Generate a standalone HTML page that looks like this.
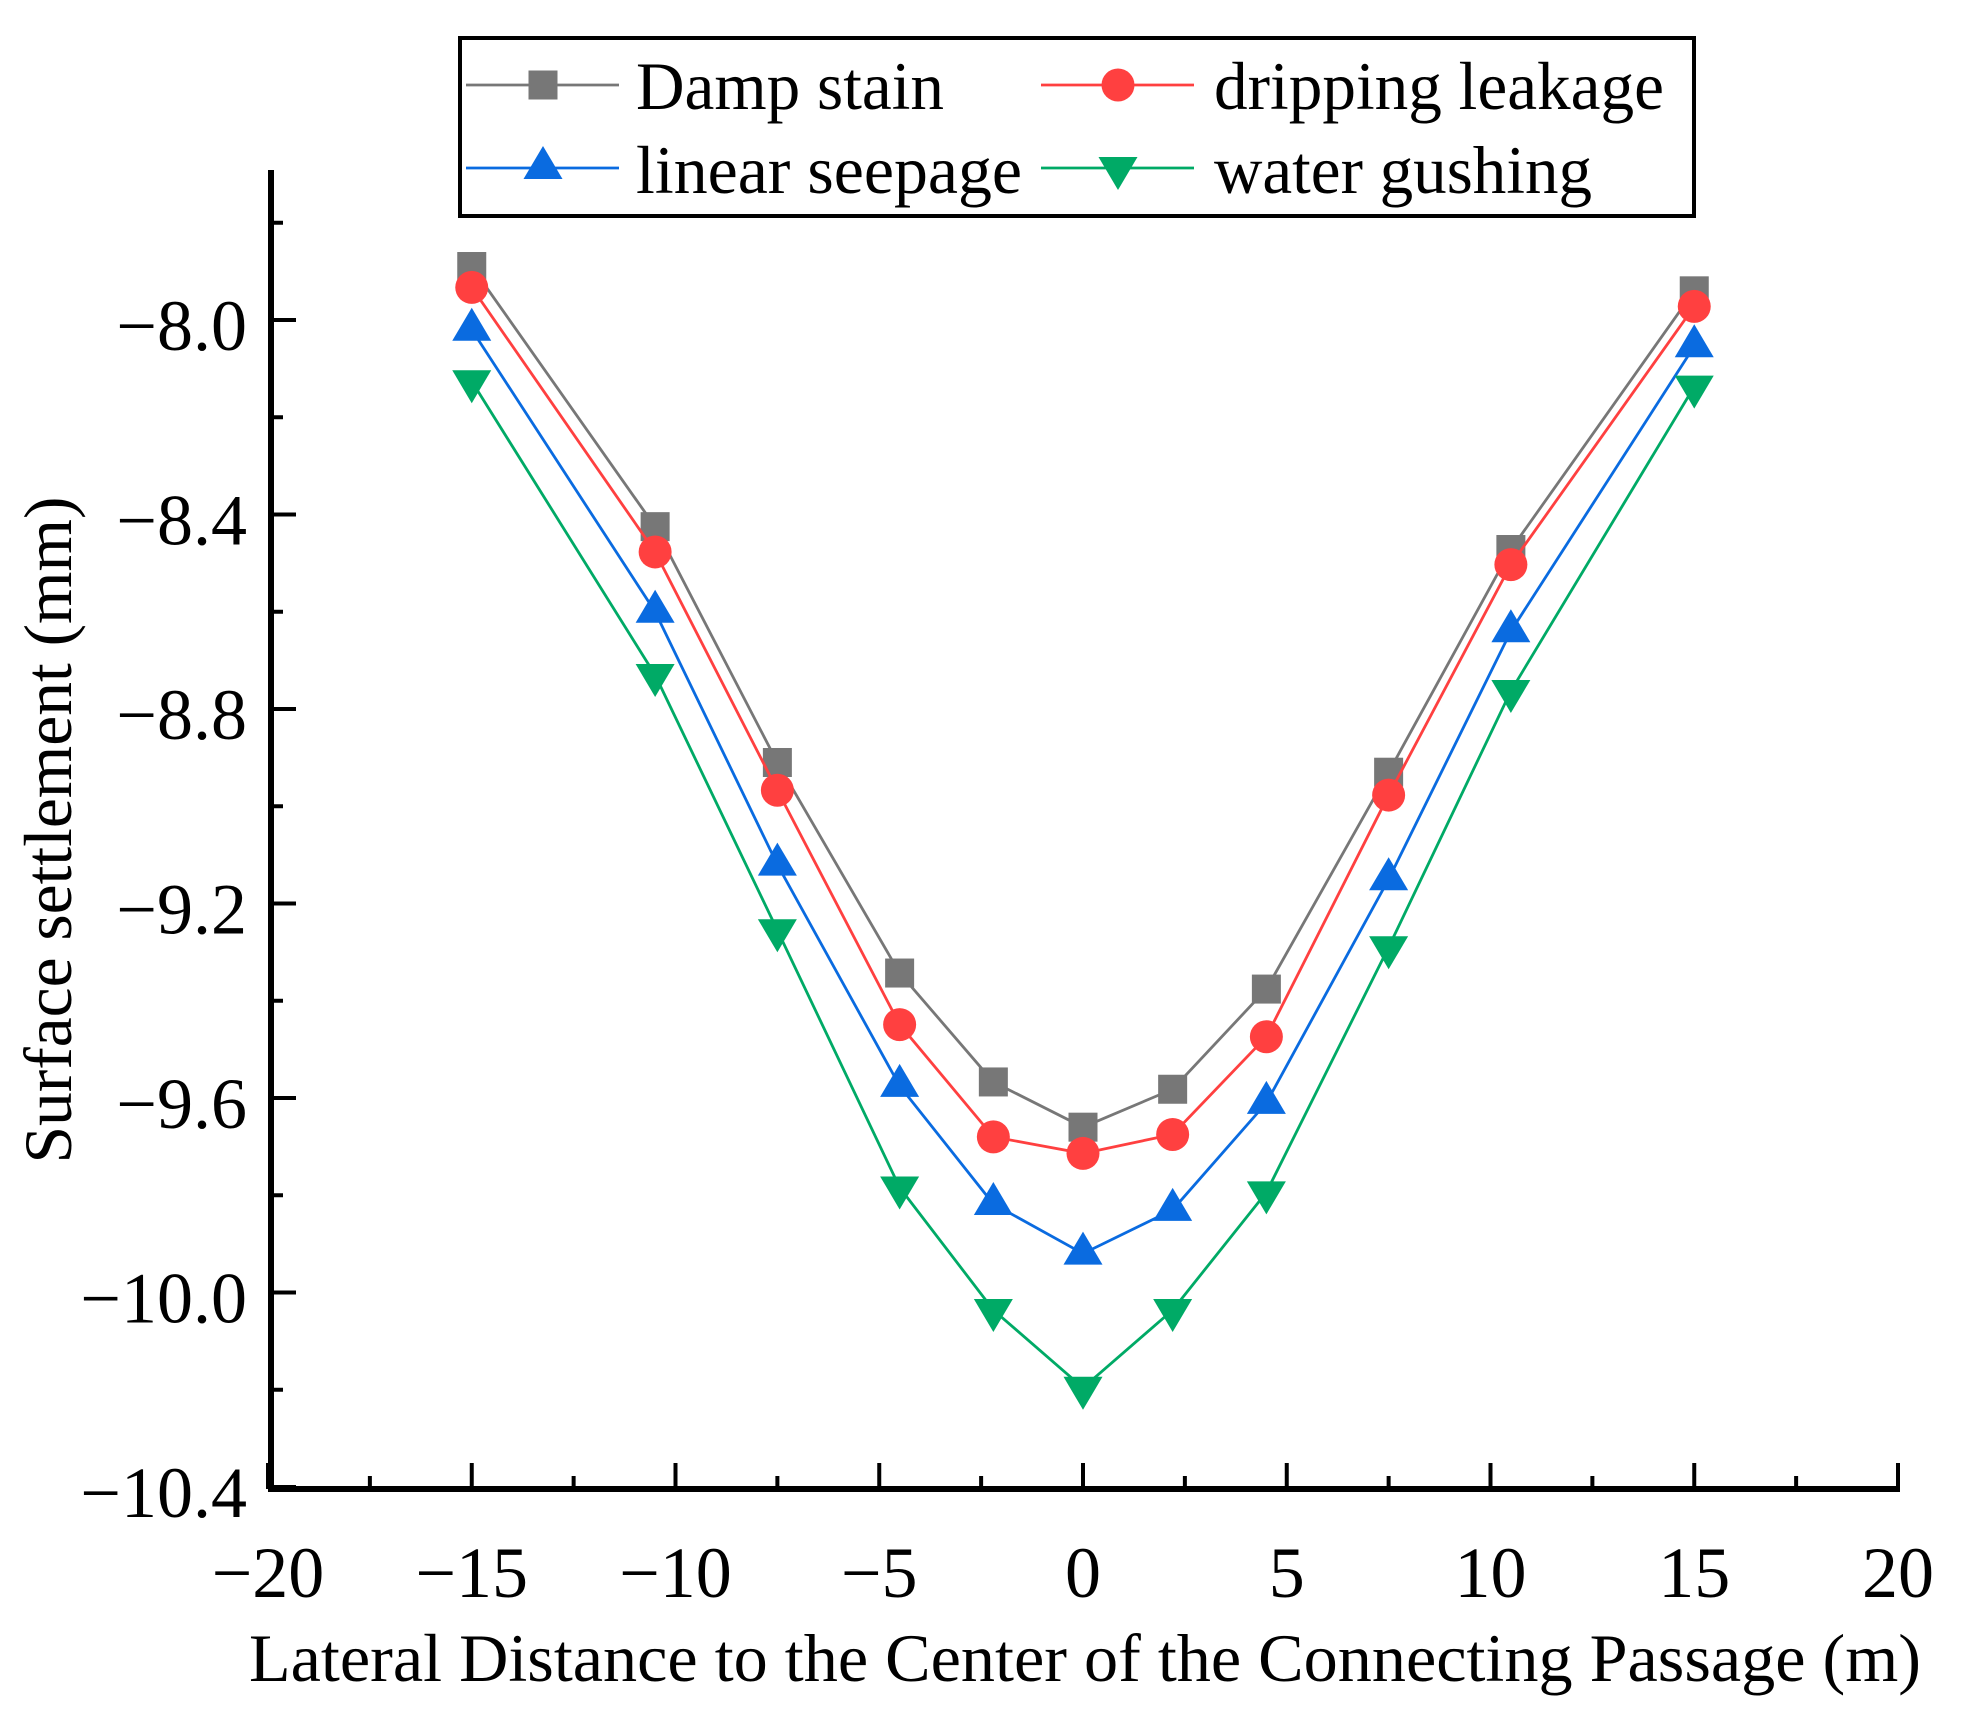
<!DOCTYPE html>
<html><head><meta charset="utf-8">
<style>
html,body{margin:0;padding:0;background:#fff;}
svg{display:block;font-family:"Liberation Serif",serif;}
</style></head>
<body>
<svg id="chart" width="1975" height="1710" viewBox="0 0 1975 1710" xmlns="http://www.w3.org/2000/svg">
<g id="axes"></g>
<g id="series"></g>
<g id="legend"></g>
</svg>
<script>
const xCats = [-15, -10.5, -7.5, -4.5, -2.2, 0, 2.2, 4.5, 7.5, 10.5, 15];
const dampStain = [-7.89, -8.425, -8.91, -9.343, -9.567, -9.66, -9.582, -9.376, -8.93, -8.472, -7.94];
const drippingLeakage = [-7.933, -8.477, -8.967, -9.449, -9.68, -9.714, -9.675, -9.474, -8.977, -8.503, -7.972];
const linearSeepage = [-8.02, -8.6, -9.12, -9.575, -9.818, -9.92, -9.83, -9.61, -9.15, -8.64, -8.054];
const waterGushing = [-8.126, -8.73, -9.255, -9.784, -10.036, -10.196, -10.036, -9.794, -9.29, -8.763, -8.137];
const xTicks = [-20, -15, -10, -5, 0, 5, 10, 15, 20];
const xTickLabels = ["\u221220","\u221215","\u221210","\u22125","0","5","10","15","20"];
const yTicks = [-8.0, -8.4, -8.8, -9.2, -9.6, -10.0, -10.4];
const yTickLabels = ["\u22128.0","\u22128.4","\u22128.8","\u22129.2","\u22129.6","\u221210.0","\u221210.4"];
const seriesNames = ["Damp stain","dripping leakage","linear seepage","water gushing"];

const NS = "http://www.w3.org/2000/svg";
function X(v){ return 1083 + v*40.75; }
function Y(v){ return 320 + (-8 - v)*486.25; }
function mk(tag, attrs, parent){
  const e = document.createElementNS(NS, tag);
  for (const k in attrs) e.setAttribute(k, attrs[k]);
  parent.appendChild(e);
  return e;
}
const axes = document.getElementById('axes');
const seriesG = document.getElementById('series');
const legend = document.getElementById('legend');

let yl = mk('line',{x1:271,y1:170,x2:271,y2:1492,stroke:'#000','stroke-width':6},axes);


let xl = mk('line',{x1:268,y1:1489,x2:1900,y2:1489,stroke:'#000','stroke-width':6},axes);



for (let i=0;i<yTicks.length;i++){
  const y = Y(yTicks[i]);
  const t = mk('line',{x1:271,y1:y,x2:296,y2:y,stroke:'#000','stroke-width':4},axes);
  
  
  const lb = mk('text',{x:247,y:y+30,'text-anchor':'end','font-size':72,fill:'#000'},axes);
  lb.textContent = yTickLabels[i];
  
  
}
for (let v=-7.8; v>-10.4; v-=0.4){
  const y = Y(v);
  const t = mk('line',{x1:271,y1:y,x2:283,y2:y,stroke:'#000','stroke-width':4},axes);
  
  
}
for (let i=0;i<xTicks.length;i++){
  const x = X(xTicks[i]);
  const t = mk('line',{x1:x,y1:1489,x2:x,y2:1463,stroke:'#000','stroke-width':4},axes);
  
  
  const lb = mk('text',{x:x,y:1597,'text-anchor':'middle','font-size':72,fill:'#000'},axes);
  lb.textContent = xTickLabels[i];
  
  
}
for (let v=-17.5; v<20; v+=5){
  const x = X(v);
  const t = mk('line',{x1:x,y1:1489,x2:x,y2:1476,stroke:'#000','stroke-width':4},axes);
  
  
}
const xt = mk('text',{x:1085,y:1681,'text-anchor':'middle','font-size':68,fill:'#000',textLength:1672,lengthAdjust:'spacingAndGlyphs'},axes);
xt.textContent = 'Lateral Distance to the Center of the Connecting Passage (m)';


const yt = mk('text',{x:0,y:0,'text-anchor':'middle','font-size':68,fill:'#000',transform:'translate(71,830) rotate(-90)',textLength:667,lengthAdjust:'spacingAndGlyphs'},axes);
yt.textContent = 'Surface settlement (mm)';



function marker(type, cx, cy, color, parent){
  let e;
  if (type==='square') e = mk('rect',{x:cx-14.5,y:cy-14.5,width:29,height:29,fill:color},parent);
  else if (type==='circle') e = mk('circle',{cx:cx,cy:cy,r:16.5,fill:color},parent);
  else if (type==='up') e = mk('polygon',{points:`${cx},${cy-22} ${cx-19.5},${cy+11} ${cx+19.5},${cy+11}`,fill:color},parent);
  else e = mk('polygon',{points:`${cx},${cy+22} ${cx-19.5},${cy-11} ${cx+19.5},${cy-11}`,fill:color},parent);
  return e;
}
const allSeries = [dampStain, drippingLeakage, linearSeepage, waterGushing];
const colors = ['#777777','#FF4040','#0A6BE0','#00AA66'];
const types = ['square','circle','up','down'];
const keys = ['damp-stain','dripping-leakage','linear-seepage','water-gushing'];
for (let s=0;s<allSeries.length;s++){
  const g = mk('g',{},seriesG);
  
  
  const pts = xCats.map((c,i)=>X(c)+','+Y(allSeries[s][i])).join(' ');
  const pl = mk('polyline',{points:pts,fill:'none',stroke:colors[s],'stroke-width':2.8},g);
  
  
  for (let i=0;i<xCats.length;i++){
    const m = marker(types[s], X(xCats[i]), Y(allSeries[s][i]), colors[s], g);
    
    
  }
}

const box = mk('rect',{x:460,y:38,width:1234,height:178,fill:'#fff',stroke:'#000','stroke-width':4},legend);


const lx = [466, 1041], tx = [636, 1214], ly = [85, 168], tb = [109, 193];
const tw = [308, 450, 386, 378];
for (let s=0;s<4;s++){
  const col = s%2, row = Math.floor(s/2);
  const g = mk('g',{},legend);
  
  
  mk('line',{x1:lx[col],y1:ly[row],x2:lx[col]+153,y2:ly[row],stroke:colors[s],'stroke-width':2.8},g);
  marker(types[s], lx[col]+77, ly[row], colors[s], g);
  const t = mk('text',{x:tx[col],y:tb[row],'font-size':68,fill:'#000',textLength:tw[s],lengthAdjust:'spacingAndGlyphs'},g);
  t.textContent = seriesNames[s];
  
  
}
</script>
</body></html>
